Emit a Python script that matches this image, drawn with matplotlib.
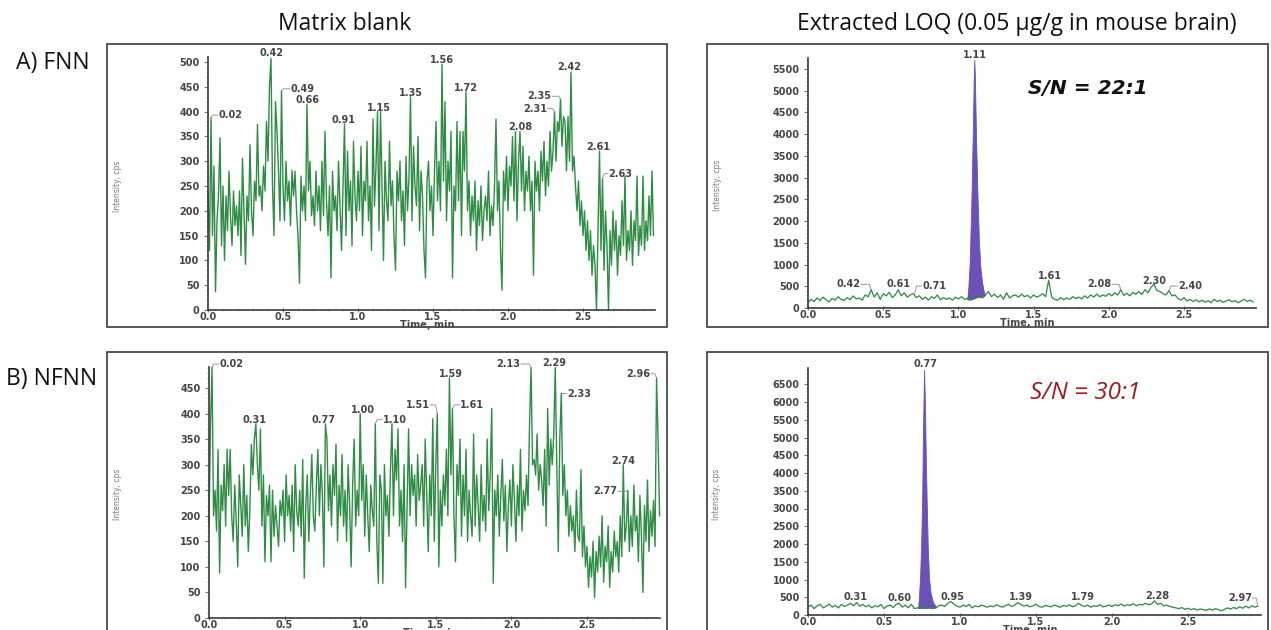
import numpy as np
import matplotlib
matplotlib.use("Agg")
import matplotlib.pyplot as plt
from matplotlib.patches import Rectangle
from matplotlib.ticker import MultipleLocator, FixedLocator, FormatStrFormatter

W, H = 1271, 630

# ---------------- data ----------------
# A) FNN, matrix blank, 0.00 .. 2.97 min, every 0.01 min
fnn_blank = [
    240, 120, 388, 150, 290, 37, 180, 230, 347, 130,
    250, 100, 230, 160, 280, 190, 130, 240, 170, 210,
    150, 240, 110, 306, 200, 92, 230, 180, 333, 200,
    150, 260, 220, 374, 230, 250, 200, 290, 240, 380,
    300, 452, 507, 250, 150, 420, 360, 280, 180, 442,
    250, 180, 300, 220, 260, 170, 282, 230, 280, 200,
    150, 54, 270, 200, 250, 180, 415, 240, 300, 190,
    230, 170, 280, 200, 250, 160, 300, 190, 360, 220,
    150, 250, 65, 280, 200, 230, 160, 300, 210, 120,
    250, 375, 150, 320, 200, 260, 130, 340, 230, 180,
    280, 200, 330, 150, 260, 220, 340, 180, 250, 120,
    385, 210, 290, 400, 160, 400, 250, 100, 300, 220,
    180, 340, 210, 260, 150, 80, 280, 220, 300, 180,
    240, 130, 310, 200, 270, 430, 180, 330, 250, 210,
    350, 160, 280, 230, 120, 65, 260, 300, 200, 250,
    150, 280, 380, 220, 300, 200, 495, 260, 420, 180,
    300, 240, 360, 65, 250, 200, 380, 220, 360, 150,
    360, 280, 440, 200, 260, 150, 230, 180, 260, 120,
    220, 170, 250, 140, 200, 230, 180, 280, 150, 210,
    170, 250, 385, 200, 260, 120, 40, 280, 220, 310,
    200, 290, 250, 350, 220, 360, 180, 300, 360, 240,
    330, 200, 280, 240, 310, 200, 260, 70, 300, 240,
    280, 200, 320, 260, 340, 230, 300, 250, 360, 280,
    320, 400, 300, 380, 360, 425, 330, 390, 380, 280,
    390, 300, 480, 280, 310, 250, 200, 260, 170, 220,
    150, 200, 120, 180, 100, 160, 70, 130, 90, 0,
    160, 320, 120, 265, 80, 200, 130, 0, 160, 90,
    200, 120, 180, 70, 150, 110, 220, 130, 270, 100,
    160, 120, 200, 90, 180, 140, 270, 110, 170, 130,
    270, 120, 180, 140, 230, 150, 280, 150,
]

# B) NFNN, matrix blank, 0.00 .. 2.98 min, every 0.01 min
nfnn_blank = [
    180, 378, 490, 200, 250, 170, 330, 88, 260, 210,
    300, 180, 330, 240, 330, 200, 150, 260, 190, 100,
    280, 220, 160, 300, 180, 240, 130, 210, 340, 280,
    350, 380, 300, 250, 370, 180, 280, 110, 240, 200,
    260, 110, 250, 160, 220, 180, 140, 230, 200, 250,
    150, 280, 200, 240, 170, 260, 130, 300, 210, 180,
    250, 160, 310, 78, 220, 280, 150, 240, 320, 200,
    170, 260, 330, 200, 300, 240, 100, 380, 350, 210,
    280, 180, 300, 240, 340, 150, 260, 200, 320, 180,
    250, 150, 300, 220, 100, 260, 350, 180, 250, 200,
    400, 230, 300, 160, 280, 200, 130, 260, 210, 180,
    380, 150, 68, 280, 250, 68, 300, 200, 240, 160,
    290, 380, 200, 330, 270, 370, 180, 250, 150, 300,
    59, 220, 370, 200, 300, 240, 280, 180, 320, 230,
    260, 300, 180, 350, 240, 130, 280, 200, 390, 150,
    300, 400, 100, 250, 180, 280, 220, 330, 200, 470,
    280, 410, 200, 110, 300, 240, 350, 160, 280, 200,
    330, 150, 250, 200, 160, 360, 180, 280, 220, 150,
    300, 190, 240, 170, 350, 210, 280, 410, 68, 250,
    200, 280, 160, 240, 310, 190, 260, 130, 220, 270,
    180, 300, 230, 150, 260, 200, 330, 170, 250, 210,
    280, 220, 380, 490, 300, 310, 280, 360, 250, 300,
    270, 220, 330, 180, 410, 260, 350, 300, 360, 490,
    300, 130, 350, 440, 240, 300, 200, 250, 160, 220,
    170, 200, 130, 250, 160, 150, 290, 120, 180, 100,
    140, 60, 120, 80, 150, 40, 130, 90, 160, 100,
    200, 70, 140, 110, 180, 60, 130, 90, 170, 120,
    150, 90, 200, 120, 300, 150, 180, 250, 130, 200,
    140, 260, 170, 200, 110, 240, 160, 50, 220, 150,
    270, 130, 210, 160, 230, 140, 470, 350, 200,
]

# extracted LOQ baselines, 0.00 .. 2.96 min, every 0.02 min
fnn_loq = [
    120, 200, 150, 230, 170, 250, 190, 140, 220, 180,
    260, 200, 170, 240, 190, 280, 210, 230, 180, 300,
    260, 420, 250, 350, 200, 330, 280, 360, 240, 300,
    420, 280, 350, 250, 300, 330, 240, 280, 200, 250,
    180, 260, 220, 300, 190, 240, 200, 230, 180, 250,
    210, 260, 200, 220, 180, 200, 240, 260, 230, 300,
    380, 260, 320, 240, 300, 200, 350, 230, 280, 300,
    250, 320, 260, 290, 230, 300, 250, 280, 330, 260,
    640, 250, 200, 180, 240, 190, 230, 200, 260, 220,
    250, 210, 280, 230, 300, 250, 320, 260, 300, 270,
    330, 280, 350, 300, 420, 290, 340, 280, 360, 320,
    380, 310, 420, 350, 470, 550, 400, 380, 330, 300,
    400, 280, 300, 220, 180, 240, 160, 200, 150, 190,
    140, 180, 130, 170, 120, 200, 150, 180, 130, 160,
    190, 140, 170, 120, 160, 200, 150, 180, 140,
]
nfnn_loq = [
    220, 280, 180, 260, 300, 200, 250, 310, 220, 270,
    200, 300, 240, 280, 330, 260, 350, 250, 300, 230,
    280, 200, 260, 230, 300, 180, 250, 280, 210, 300,
    330, 220, 280, 200, 300, 180, 200, 200, 200, 200,
    200, 180, 200, 260, 280, 240, 330, 380, 300, 250,
    220, 280, 240, 300, 200, 260, 230, 280, 250, 220,
    260, 230, 290, 250, 220, 270, 300, 240, 280, 350,
    300, 250, 280, 230, 260, 300, 240, 220, 270, 250,
    230, 280, 250, 220, 270, 240, 290, 230, 260, 330,
    270, 240, 280, 220, 260, 240, 290, 230, 250, 280,
    240, 290, 260, 310, 250, 290, 270, 320, 260, 300,
    280, 330, 290, 310, 400, 300, 330, 260, 280, 240,
    220, 200, 180, 210, 160, 190, 150, 180, 140, 170,
    150, 130, 170, 140, 180, 150, 120, 160, 200, 170,
    210, 180, 230, 190, 250, 200, 260, 220, 250,
]

# integrated analyte peaks
fnn_peak_t = [1.062, 1.070, 1.078, 1.090, 1.100, 1.105, 1.109, 1.113,
              1.120, 1.130, 1.140, 1.150, 1.160, 1.170, 1.180]
fnn_peak_y = [180, 500, 1000, 2500, 4200, 5200, 5700, 5300,
              4000, 2600, 1500, 900, 600, 400, 280]
nfnn_peak_t = [0.728, 0.733, 0.740, 0.748, 0.755, 0.760, 0.767, 0.772,
               0.778, 0.785, 0.792, 0.800, 0.810, 0.825, 0.848]
nfnn_peak_y = [180, 500, 1000, 2000, 3500, 5200, 6900, 6000,
               4500, 3000, 1800, 1000, 600, 350, 200]

x_ticks = [0.0, 0.5, 1.0, 1.5, 2.0, 2.5]

# peak labels: text, peak time, peak height, text time, text height, side
fnn_blank_labels = [
    ("0.02", 0.02, 388, 0.07, 393, "r"), ("0.42", 0.42, 507, 0.42, 518, "c"),
    ("0.49", 0.49, 442, 0.55, 446, "r"), ("0.66", 0.66, 415, 0.66, 424, "c"),
    ("0.91", 0.91, 375, 0.90, 383, "c"), ("1.15", 1.15, 400, 1.14, 408, "c"),
    ("1.35", 1.35, 430, 1.35, 437, "c"), ("1.56", 1.56, 495, 1.56, 504, "c"),
    ("1.72", 1.72, 440, 1.72, 448, "c"), ("2.08", 2.08, 360, 2.08, 368, "c"),
    ("2.31", 2.31, 400, 2.26, 406, "l"), ("2.35", 2.35, 425, 2.29, 431, "l"),
    ("2.42", 2.42, 480, 2.41, 489, "c"), ("2.61", 2.61, 320, 2.60, 328, "c"),
    ("2.63", 2.63, 265, 2.67, 275, "r"),
]
fnn_loq_labels = [
    ("0.42", 0.42, 420, 0.35, 545, "l"), ("0.61", 0.60, 420, 0.60, 545, "c"),
    ("0.71", 0.71, 330, 0.76, 506, "r"), ("1.11", 1.109, 5700, 1.11, 5830, "c"),
    ("1.61", 1.60, 640, 1.61, 730, "c"), ("2.08", 2.08, 420, 2.02, 545, "l"),
    ("2.30", 2.30, 550, 2.30, 625, "c"), ("2.40", 2.40, 400, 2.46, 506, "r"),
]
nfnn_blank_labels = [
    ("0.02", 0.02, 490, 0.07, 497, "r"), ("0.31", 0.31, 380, 0.30, 388, "c"),
    ("0.77", 0.77, 380, 0.76, 388, "c"), ("1.00", 1.00, 400, 1.02, 408, "c"),
    ("1.10", 1.10, 380, 1.15, 388, "r"), ("1.51", 1.51, 400, 1.46, 417, "l"),
    ("1.59", 1.59, 470, 1.60, 478, "c"), ("1.61", 1.61, 410, 1.66, 417, "r"),
    ("2.13", 2.13, 490, 2.06, 497, "l"), ("2.29", 2.29, 490, 2.285, 499, "c"),
    ("2.33", 2.33, 440, 2.37, 439, "r"), ("2.74", 2.74, 300, 2.74, 307, "c"),
    ("2.77", 2.77, 250, 2.70, 248, "l"), ("2.96", 2.96, 470, 2.92, 478, "l"),
]
nfnn_loq_labels = [
    ("0.77", 0.767, 6900, 0.77, 7070, "c"), ("0.31", 0.30, 350, 0.31, 516, "c"),
    ("0.60", 0.60, 330, 0.60, 488, "c"), ("0.95", 0.94, 380, 0.95, 516, "c"),
    ("1.39", 1.38, 350, 1.40, 516, "c"), ("1.79", 1.78, 330, 1.81, 516, "c"),
    ("2.28", 2.28, 400, 2.30, 535, "c"), ("2.97", 2.96, 250, 2.92, 478, "l"),
]

GREEN = "#2f8c45"
PURPLE = "#6a51b6"
TICK_FONT = dict(family="DejaVu Sans", weight="bold", size=7, color="#454545")

fig = plt.figure(figsize=(W / 100, H / 100), dpi=100)


def frame(x0, y0, x1, y1):
    fig.patches.append(Rectangle((x0 / W, 1 - y1 / H), (x1 - x0) / W, (y1 - y0) / H,
                                 transform=fig.transFigure, fill=False,
                                 edgecolor="#4a4a4a", lw=1.3))


def panel(x0, y0, px_min, px_unit, ymax, ystep):
    # x0, y0: pixel position of the origin; scales in px per unit
    ax = fig.add_axes([x0 / W, 1 - y0 / H, 2.98 * px_min / W, ymax * px_unit / H])
    ax.set_xlim(0, 2.98)
    ax.set_ylim(0, ymax)
    for s in ("top", "right"):
        ax.spines[s].set_visible(False)
    for s in ("left", "bottom"):
        ax.spines[s].set_color("#3a3a3a")
        ax.spines[s].set_linewidth(1.2)
    ax.xaxis.set_major_locator(FixedLocator(x_ticks))
    ax.xaxis.set_minor_locator(MultipleLocator(0.1))
    ax.xaxis.set_major_formatter(FormatStrFormatter("%.1f"))
    ax.yaxis.set_major_locator(MultipleLocator(ystep))
    ax.yaxis.set_minor_locator(MultipleLocator(ystep / 5))
    ax.tick_params(axis="y", which="major", length=3, width=0.8, color="#777", pad=3)
    ax.tick_params(axis="y", which="minor", length=1.5, width=0.5, color="#999")
    ax.tick_params(axis="x", which="major", length=3, width=0.8, color="#777",
                   direction="inout", pad=0)
    ax.tick_params(axis="x", which="minor", length=2, width=0.5, color="#999",
                   direction="inout")
    for lab in ax.get_xticklabels() + ax.get_yticklabels():
        lab.set(**TICK_FONT)
    ax.patch.set_alpha(0)
    ax.text(-0.203, 0.49, "Intensity, cps", transform=ax.transAxes, rotation=90,
            ha="center", va="center", fontsize=5.5, color="#7a7a7a")
    ax.text(0.49, -15 / (ymax * px_unit), "Time, min", transform=ax.transAxes,
            ha="center", va="center", clip_on=False, **TICK_FONT)
    return ax


def peak_labels(ax, labels):
    for text, pt, py, tt, ty, side in labels:
        if side == "c":
            ax.text(tt, ty, text, ha="center", va="center", clip_on=False, **TICK_FONT)
        else:
            d = 0.012 if side == "r" else -0.012
            ax.plot([pt, pt + d, tt - d / 3], [py, ty, ty], color="#8a8a8a",
                    lw=0.6, clip_on=False)
            ax.text(tt, ty, text, ha="left" if side == "r" else "right",
                    va="center", clip_on=False, **TICK_FONT)


# frames around each chromatogram
frame(107, 44, 667, 327)
frame(707, 44, 1268, 327)
frame(107, 352, 667, 645)
frame(707, 352, 1268, 645)

# A) FNN blank
ax = panel(208, 310, 150.0, 0.496, 510, 50)
t = np.arange(len(fnn_blank)) * 0.01
ax.plot(t, fnn_blank, color=GREEN, lw=1.0, clip_on=False)
peak_labels(ax, fnn_blank_labels)

# A) FNN LOQ
ax = panel(808, 308, 150.4, 0.04345, 5750, 500)
t = np.arange(len(fnn_loq)) * 0.02
ax.plot(t, fnn_loq, color="#2a8a40", lw=0.9)
ax.fill(fnn_peak_t, fnn_peak_y, color=PURPLE, lw=0.6, clip_on=False)
peak_labels(ax, fnn_loq_labels)

# B) NFNN blank
ax = panel(209, 618, 151.2, 0.511, 492, 50)
t = np.arange(len(nfnn_blank)) * 0.01
ax.plot(t, nfnn_blank, color=GREEN, lw=1.0, clip_on=False)
peak_labels(ax, nfnn_blank_labels)

# B) NFNN LOQ
ax = panel(808, 615, 152.0, 0.0355, 6950, 500)
t = np.arange(len(nfnn_loq)) * 0.02
ax.plot(t, nfnn_loq, color="#2a8a40", lw=0.9)
ax.fill(nfnn_peak_t, nfnn_peak_y, color=PURPLE, lw=0.6, clip_on=False)
peak_labels(ax, nfnn_loq_labels)

# headings and annotations
HEAD = dict(family="Open Sans", size=16.5, color="#111")
fig.text(345 / W, 1 - 24 / H, "Matrix blank", ha="center", va="center", **HEAD)
fig.text(1017 / W, 1 - 24 / H, "Extracted LOQ (0.05 μg/g in mouse brain)",
         ha="center", va="center", **HEAD)
fig.text(53 / W, 1 - 63 / H, "A) FNN", ha="center", va="center", **HEAD)
fig.text(52 / W, 1 - 379 / H, "B) NFNN", ha="center", va="center", **HEAD)
fig.text(1088 / W, 1 - 89 / H, "S/N = 22:1", ha="center", va="center",
         family="DejaVu Sans", weight="bold", style="italic", size=14.5, color="#111")
fig.text(1085 / W, 1 - 393 / H, "S/N = 30:1", ha="center", va="center",
         family="Open Sans", style="italic", size=17.5, color="#a01c1c")

fig.savefig("out.png", dpi=100)
